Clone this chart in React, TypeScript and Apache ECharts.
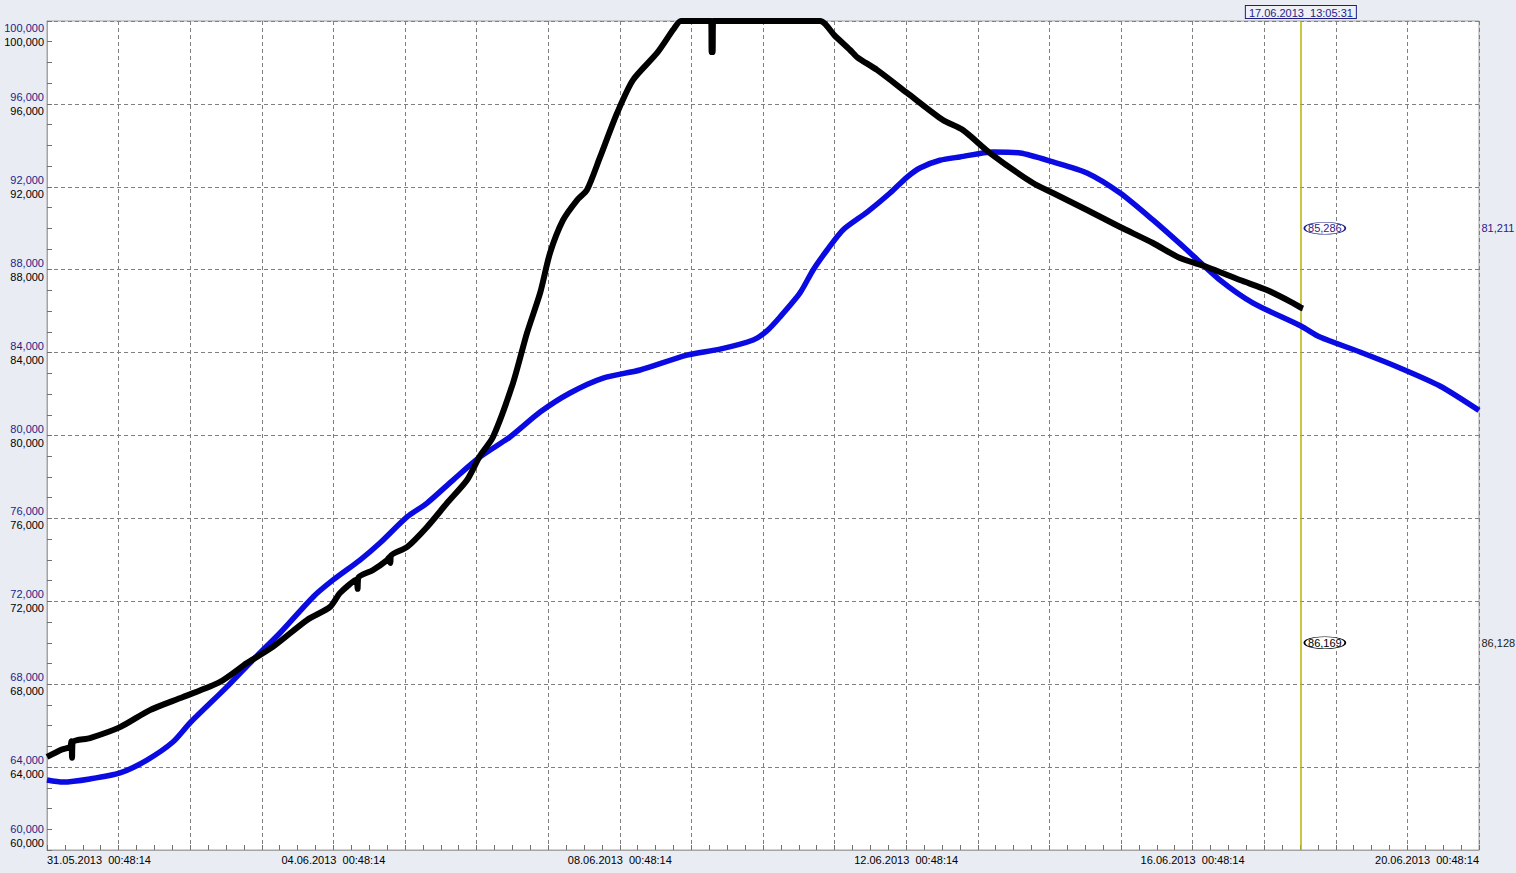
import React, { useEffect, useRef } from "react";
import * as echarts from "echarts";

// Time origin of the x axis (hours since this instant)
const START_UTC = Date.UTC(2013, 4, 31, 0, 48, 14);
const X_MAX_HOURS = 480;
const CURSOR_UTC = Date.UTC(2013, 5, 17, 13, 5, 31);

// Blue series
const blueHours = [
  0, 5.4, 14.4, 24.5, 33.5, 42.2, 47.9, 60.3, 69.0, 78.1, 89.2, 95.9, 104.9, 111.6, 120.7, 127.4,
  136.1, 145.1, 155.2, 165.3, 175.3, 186.4, 198.8, 214.5, 225.6, 236.7, 241.3, 245.7, 252.4, 256.8,
  261.5, 266.8, 274.9, 282.6, 288.3, 292.6, 299.3, 306.0, 317.1, 326.2, 337.2, 348.6, 359.7, 370.7,
  382.1, 393.2, 404.3, 420.3, 426.7, 440.1, 453.5, 466.9, 480,
];
const blueValues = [
  63380, 63280, 63430, 63720, 64340, 65210, 66130, 67870, 69170, 70470, 72210, 73030, 73990, 74810, 76070, 76740,
  77850, 78960, 79930, 81130, 82050, 82770, 83160, 83880, 84170, 84610, 85050, 85720, 86880, 87990,
  88950, 89920, 90780, 91700, 92470, 92910, 93280, 93440, 93680, 93630, 93200, 92670, 91700, 90400,
  88950, 87500, 86390, 85286, 84750, 84030, 83260, 82390, 81211,
];

// Black series
const blackHours = [
  0, 5.0, 7.7, 8.2, 8.4, 8.6, 14.4, 24.5, 34.5, 45.6, 58.0, 67.0, 75.7, 87.2, 94.9, 98.2,
  103.8, 104.1, 104.4, 109.3, 114.0, 114.9, 115.1, 115.3, 120.7, 127.4, 134.1, 140.8, 145.1, 149.5,
  156.2, 160.9, 165.3, 168.6, 173.0, 177.7, 181.0, 185.4, 191.1, 196.4, 204.5, 210.0, 212.5,
  222.6, 222.8, 223.1, 223.3, 259.1, 264.0, 269.2, 271.5, 278.2, 288.3, 300.3, 307.0, 316.1,
  330.5, 337.2, 348.6, 359.7, 370.7, 379.8, 388.8, 399.9, 408.9, 417.7, 420.3, 421.0,
];
const blackValues = [
  64490, 64850, 64970, 65250, 64450, 65200, 65400, 65930, 66750, 67380, 68110, 69020, 69800, 71100, 71730, 72400,
  73050, 72600, 73150, 73510, 73990, 74150, 73850, 74200, 74620, 75590, 76740, 77850, 79010, 79930,
  82530, 84950, 86880, 88800, 90400, 91360, 91850, 93440, 95560, 97150, 98460, 99600, 100000,
  100000, 98500, 98500, 100000, 100000, 99300, 98600, 98260, 97640, 96530, 95220, 94740, 93630,
  92180, 91700, 90880, 90060, 89290, 88560, 88130, 87500, 87020, 86390, 86169, 86128,
];

// Cursor read-outs
const cursorBlueValue = 85286;
const cursorBlackValue = 86169;
const blueReadoutLevel = 90000;
const blackReadoutLevel = 70000;

const Y_MIN = 60000;
const Y_MAX = 100000;
const Y_STEP = 4000;

const NAVY = "#1e1e86";
const BLUE = "#0a0ae2";
const GRID_DASH = "#808080";
const FONT = "'Liberation Sans', Arial, sans-serif";

const pad2 = (n: number) => String(n).padStart(2, "0");
const fmtDate = (ms: number) => {
  const d = new Date(ms);
  return `${pad2(d.getUTCDate())}.${pad2(d.getUTCMonth() + 1)}.${d.getUTCFullYear()}  ${pad2(
    d.getUTCHours()
  )}:${pad2(d.getUTCMinutes())}:${pad2(d.getUTCSeconds())}`;
};
const fmtHours = (h: number) => fmtDate(START_UTC + h * 3600000);
const fmtNum = (v: number) => Math.round(v).toLocaleString("en-US");

const cursorHours = (CURSOR_UTC - START_UTC) / 3600000;

export default function App() {
  const ref = useRef<HTMLDivElement>(null);

  useEffect(() => {
    if (!ref.current) return;
    const chart = echarts.init(ref.current, undefined, { renderer: "svg" });

    const blueData = blueHours.map((h, i) => [h, blueValues[i]]);
    const blackData = blackHours.map((h, i) => [h, blackValues[i]]);
    const lastBlue = blueData[blueData.length - 1];
    const lastBlack = blackData[blackData.length - 1];

    const yBase = {
      type: "value" as const,
      min: Y_MIN,
      max: Y_MAX,
      interval: Y_STEP,
      position: "left" as const,
    };

    const option: any = {
      animation: false,
      backgroundColor: "#e9ecf3",
      textStyle: { fontFamily: FONT },
      grid: {
        left: 47,
        top: 21,
        width: 1432,
        height: 829,
        containLabel: false,
        outerBoundsMode: "none",
        show: true,
        backgroundColor: "#ffffff",
        borderColor: "#a4a4a4",
        borderWidth: 1,
      },
      xAxis: {
        type: "value",
        min: 0,
        max: X_MAX_HOURS,
        interval: 24,
        axisLine: { show: true, lineStyle: { color: "#a4a4a4" } },
        axisTick: { show: true, inside: true, length: 5, lineStyle: { color: "#707070" } },
        minorTick: { show: true, splitNumber: 4, length: 5, lineStyle: { color: "#707070" } },
        splitLine: { show: true, lineStyle: { color: GRID_DASH, width: 1, type: [4, 3] } },
        axisLabel: {
          show: true,
          margin: 4,
          fontSize: 11,
          color: "#000",
          fontFamily: FONT,
          showMinLabel: true,
          showMaxLabel: true,
          alignMinLabel: "left",
          alignMaxLabel: "right",
          formatter: (v: number) => (Math.round(v) % 96 === 0 ? fmtHours(v) : ""),
        },
      },
      yAxis: [
        {
          ...yBase,
          axisLine: { show: true, lineStyle: { color: "#a4a4a4" } },
          axisTick: { show: true, inside: true, length: 5, lineStyle: { color: "#707070" } },
          minorTick: { show: true, splitNumber: 4, length: 5, lineStyle: { color: "#707070" } },
          splitLine: { show: true, lineStyle: { color: GRID_DASH, width: 1, type: [4, 3] } },
          axisLabel: {
            show: true,
            margin: 3,
            fontSize: 11,
            lineHeight: 14,
            color: NAVY,
            fontFamily: FONT,
            showMinLabel: true,
            showMaxLabel: true,
            formatter: (v: number) =>
              v >= Y_MAX ? `\n${fmtNum(v)}` : v <= Y_MIN ? `${fmtNum(v)}\n\n\n` : `${fmtNum(v)}\n`,
          },
        },
        {
          ...yBase,
          axisLine: { show: false },
          axisTick: { show: false },
          splitLine: { show: false },
          axisLabel: {
            show: true,
            margin: 3,
            fontSize: 11,
            lineHeight: 14,
            color: "#000",
            fontFamily: FONT,
            showMinLabel: true,
            showMaxLabel: true,
            formatter: (v: number) =>
              v >= Y_MAX ? `\n\n\n${fmtNum(v)}` : v <= Y_MIN ? `${fmtNum(v)}\n` : `\n${fmtNum(v)}`,
          },
        },
      ],
      series: [
        {
          type: "line",
          name: "blue",
          yAxisIndex: 0,
          data: blueData,
          showSymbol: false,
          smooth: 0.25,
          lineStyle: { color: BLUE, width: 5.5 },
          z: 2,
          markLine: {
            silent: true,
            symbol: ["none", "none"],
            lineStyle: { color: "#b4b400", width: 1.5, type: "solid" },
            label: {
              show: true,
              position: "end",
              distance: 3,
              formatter: () => fmtDate(CURSOR_UTC),
              color: NAVY,
              fontSize: 11,
              fontFamily: FONT,
              borderColor: NAVY,
              borderWidth: 1,
              padding: [1, 3, 0, 3],
              backgroundColor: "#eef0f6",
            },
            data: [{ xAxis: cursorHours }],
            z: 1,
          },
          markPoint: {
            silent: true,
            data: [
              {
                coord: [cursorHours, blueReadoutLevel],
                value: cursorBlueValue,
                symbol: "circle",
                symbolSize: [41, 12],
                symbolOffset: [24, 0],
                itemStyle: { color: "#ffffff", borderColor: NAVY, borderWidth: 1 },
                label: {
                  show: true,
                  position: "inside",
                  formatter: (p: any) => fmtNum(p.value),
                  color: NAVY,
                  fontSize: 11,
                  fontFamily: FONT,
                },
              },
              {
                coord: [lastBlue[0], blueReadoutLevel],
                value: lastBlue[1],
                symbol: "rect",
                symbolSize: 1,
                itemStyle: { color: "rgba(0,0,0,0)" },
                label: {
                  show: true,
                  position: "right",
                  distance: 2,
                  formatter: (p: any) => fmtNum(p.value),
                  color: NAVY,
                  fontSize: 11,
                  fontFamily: FONT,
                },
              },
            ],
          },
        },
        {
          type: "line",
          name: "black",
          yAxisIndex: 1,
          data: blackData,
          showSymbol: false,
          smooth: 0.25,
          lineStyle: { color: "#000000", width: 6 },
          z: 3,
          markPoint: {
            silent: true,
            data: [
              {
                coord: [cursorHours, blackReadoutLevel],
                value: cursorBlackValue,
                symbol: "circle",
                symbolSize: [41, 12],
                symbolOffset: [24, 0],
                itemStyle: { color: "#ffffff", borderColor: "#000", borderWidth: 1 },
                label: {
                  show: true,
                  position: "inside",
                  formatter: (p: any) => fmtNum(p.value),
                  color: "#000",
                  fontSize: 11,
                  fontFamily: FONT,
                },
              },
              {
                coord: [X_MAX_HOURS, blackReadoutLevel],
                value: lastBlack[1],
                symbol: "rect",
                symbolSize: 1,
                itemStyle: { color: "rgba(0,0,0,0)" },
                label: {
                  show: true,
                  position: "right",
                  distance: 2,
                  formatter: (p: any) => fmtNum(p.value),
                  color: "#222",
                  fontSize: 11,
                  fontFamily: FONT,
                },
              },
            ],
          },
        },
      ],
    };

    chart.setOption(option);
    return () => chart.dispose();
  }, []);

  return (
    <div
      ref={ref}
      style={{
        position: "fixed",
        left: 0,
        top: 0,
        width: 1516,
        height: 873,
        background: "#e9ecf3",
      }}
    />
  );
}
